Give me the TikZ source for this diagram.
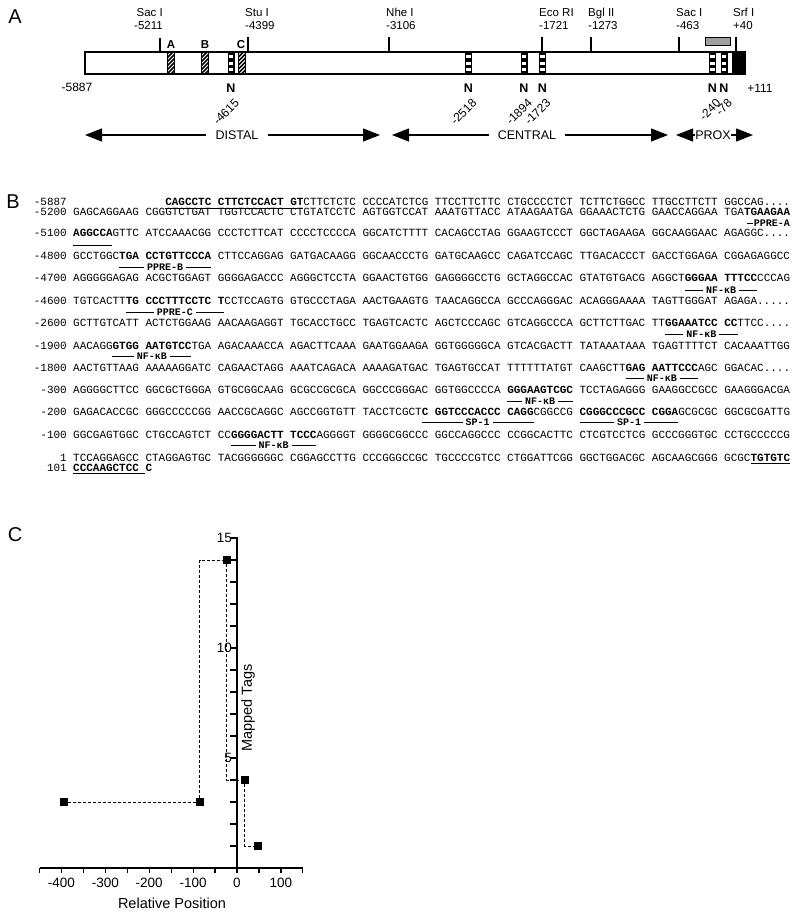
\documentclass[tikz,border=0pt]{standalone}
\usepackage{fontspec}
\setmainfont{Liberation Sans}
\newfontfamily\seqfont{Liberation Mono}
\usetikzlibrary{arrows.meta,positioning}

\tikzset{
  panel/.style={font=\fontsize{20}{20}\selectfont, inner sep=0pt},
  site/.style={font=\fontsize{11.5}{13}\selectfont, inner sep=0pt},
  sitetick/.style={line width=1.3pt},
  boxlab/.style={font=\bfseries\fontsize{11.5}{11.5}\selectfont, inner sep=0pt},
  nlab/.style={font=\bfseries\fontsize{12.5}{12.5}\selectfont, inner sep=0pt},
  npos/.style={font=\fontsize{12}{12}\selectfont, rotate=45, anchor=east, inner sep=0pt},
  endlab/.style={font=\fontsize{12}{12}\selectfont, inner sep=0pt},
  region/.style={font=\fontsize{12.5}{12.5}\selectfont, inner ysep=0pt, inner xsep=9pt},
  regarrow/.style={line width=1.3pt, -{Triangle[length=17pt,width=13pt]}},
  seq/.style={font=\seqfont\fontsize{10.96}{12}\selectfont, anchor=west, inner sep=0pt},
  seqlab/.style={font=\seqfont\fontsize{10.96}{12}\selectfont, anchor=east, inner sep=0pt},
  motif/.style={line width=0.9pt},
  motiflab/.style={font=\seqfont\bfseries\fontsize{10}{10}\selectfont, fill=white, inner xsep=3pt, inner ysep=1pt},
  uline/.style={line width=1.2pt},
  axis/.style={line width=1.2pt},
  ticklab/.style={font=\fontsize{13.5}{14}\selectfont, inner sep=0pt},
  axlab/.style={font=\fontsize{14.5}{15}\selectfont, inner sep=0pt},
  tag/.style={fill=black, minimum size=8pt, inner sep=0pt},
  stepline/.style={line width=0.9pt, dash pattern=on 3pt off 2pt}
}

\newcommand\hatchsite[1]{%
  \fill[white] (#1-3.3,52) rectangle (#1+3.3,74);
  \begin{scope}
    \clip (#1-3.3,52) rectangle (#1+3.3,74);
    \foreach \k in {0,...,9} \draw[line width=1.5pt] (#1-8,82-4*\k) -- (#1+8,66-4*\k);
  \end{scope}
  \draw[line width=0.6pt] (#1-3.3,52) rectangle (#1+3.3,74);}
\newcommand\nsite[1]{%
  \fill (#1-3.5,52) rectangle (#1+3.5,74);
  \foreach \v in {55,61.5,68} \fill[white] (#1-2.2,\v) rectangle (#1+2.2,\v+3.4);}

\begin{document}
\begin{tikzpicture}[x=1pt,y=-1pt]
\useasboundingbox[fill=white] (0,0) rectangle (800,916);

\node[panel] (pa) at (15,17) {A};
\node[panel] (pb) at (13,202) {B};
\node[panel] (pc) at (15,535) {C};

\hatchsite{171}
\hatchsite{205}
\hatchsite{241.5}
\node[boxlab] (ba) at (171,45) {A};
\node[boxlab] (bb) at (205,45) {B};
\node[boxlab] (bc) at (241,45) {C};
\foreach \x/\p [count=\i] in {231/-4615, 468.5/-2518, 524/-1894, 542.5/-1723, 712.5/-240, 724/-78} {
  \nsite{\x}
  \node[nlab] (n\i) at (\x,88) {N};
  \node[npos] (np\i) at (\x+6,101) {\p};
}
\fill (732,52) rectangle (745,74);
\draw[line width=1.5pt] (85,52) rectangle (745,74);
\draw[fill=gray!75] (705,37) rectangle (730,45);

\coordinate (sac1) at (160,52);
\draw[sitetick] (sac1) -- ++(0,-14);
\node[site, anchor=north east, align=right] (sac1lab) at (163,8) {Sac I\\-5211};
\foreach \x/\nm/\p/\nam in {248/Stu I/-4399/stu, 389/Nhe I/-3106/nhe, 542/Eco RI/-1721/eco, 591/Bgl II/-1273/bgl, 679/Sac I/-463/sac2, 736/Srf I/+40/srf} {
  \coordinate (\nam) at (\x,52);
  \draw[sitetick] (\nam) -- ++(0,-15);
  \node[site, anchor=north west, align=left] (\nam lab) at (\x-3,8) {\nm\\\p};
}
\node[endlab] (left) at (77,87) {-5887};
\node[endlab] (right) at (760,88) {+111};

\node[region] (distal) at (237,135) {DISTAL};
\node[region] (central) at (527,135) {CENTRAL};
\node[region, inner xsep=0pt] (prox) at (713,135) {PROX};
\coordinate (dl) at (85,135);
\coordinate (dr) at (380,135);
\coordinate (cl) at (392,135);
\coordinate (cr) at (668,135);
\coordinate (pl) at (676,135);
\coordinate (pr) at (753,135);
\draw[regarrow] (distal) -- (dl);
\draw[regarrow] (distal) -- (dr);
\draw[regarrow] (central) -- (cl);
\draw[regarrow] (central) -- (cr);
\draw[regarrow] (prox.west) -- (pl);
\draw[regarrow] (prox.east) -- (pr);

\node[seqlab] (lab0) at (67,202) {-5887};
\node[seq] (seq0) at ({73+14*6.58},202) {\textbf{CAGCCTC CTTCTCCACT GT}CTTCTCTC CCCCATCTCG TTCCTTCTTC CTGCCCCTCT TCTTCTGGCC TTGCCTTCTT GGCCAG....};
\foreach \y/\n/\s [count=\i] in {
  212/-5200/{GAGCAGGAAG CGGGTCTGAT TGGTCCACTC CTGTATCCTC AGTGGTCCAT AAATGTTACC ATAAGAATGA GGAAACTCTG GAACCAGGAA TGA\textbf{TGAAGAA}},
  233/-5100/{\textbf{AGGCCA}GTTC ATCCAAACGG CCCTCTTCAT CCCCTCCCCA GGCATCTTTT CACAGCCTAG GGAAGTCCCT GGCTAGAAGA GGCAAGGAAC AGAGGC....},
  256/-4800/{GCCTGGC\textbf{TGA CCTGTTCCCA} CTTCCAGGAG GATGACAAGG GGCAACCCTG GATGCAAGCC CAGATCCAGC TTGACACCCT GACCTGGAGA CGGAGAGGCC},
  278/-4700/{AGGGGGAGAG ACGCTGGAGT GGGGAGACCC AGGGCTCCTA GGAACTGTGG GAGGGGCCTG GCTAGGCCAC GTATGTGACG AGGCT\textbf{GGGAA TTTCC}CCCAG},
  301/-4600/{TGTCACTT\textbf{TG CCCTTTCCTC T}CCTCCAGTG GTGCCCTAGA AACTGAAGTG TAACAGGCCA GCCCAGGGAC ACAGGGAAAA TAGTTGGGAT AGAGA.....},
  323/-2600/{GCTTGTCATT ACTCTGGAAG AACAAGAGGT TGCACCTGCC TGAGTCACTC AGCTCCCAGC GTCAGGCCCA GCTTCTTGAC TT\textbf{GGAAATCC CC}TTCC....},
  346/-1900/{AACAGG\textbf{GTGG AATGTCC}TGA AGACAAACCA AGACTTCAAA GAATGGAAGA GGTGGGGGCA GTCACGACTT TATAAATAAA TGAGTTTTCT CACAAATTGG},
  368/-1800/{AACTGTTAAG AAAAAGGATC CAGAACTAGG AAATCAGACA AAAAGATGAC TGAGTGCCAT TTTTTTATGT CAAGCTT\textbf{GAG AATTCCC}AGC GGACAC....},
  390/-300/{AGGGGCTTCC GGCGCTGGGA GTGCGGCAAG GCGCCGCGCA GGCCCGGGAC GGTGGCCCCA \textbf{GGGAAGTCGC} TCCTAGAGGG GAAGGCCGCC GAAGGGACGA},
  412/-200/{GAGACACCGC GGGCCCCCGG AACCGCAGGC AGCCGGTGTT TACCTCGCT\textbf{C GGTCCCACCC CAGG}CGGCCG \textbf{CGGGCCCGCC CGGA}GCGCGC GGCGCGATTG},
  435/-100/{GGCGAGTGGC CTGCCAGTCT CC\textbf{GGGGACTT TCCC}AGGGGT GGGGCGGCCC GGCCAGGCCC CCGGCACTTC CTCGTCCTCG GCCCGGGTGC CCTGCCCCCG},
  458/1/{TCCAGGAGCC CTAGGAGTGC TACGGGGGGC CGGAGCCTTG CCCGGGCCGC TGCCCCGTCC CTGGATTCGG GGCTGGACGC AGCAAGCGGG GCGC\textbf{TGTGTC}},
  468/101/{\textbf{CCCAAGCTCC C}}
} {
  \node[seqlab] (lab\i) at (67,\y) {\n};
  \node[seq] (seq\i) at (73,\y) {\s};
}
\draw[uline] ({73+14*6.58},208.5) -- ({73+35*6.58},208.5);
\draw[uline] ({73+103*6.58},463.5) -- ({73+109*6.58},463.5);
\draw[uline] (73,473.5) -- ({73+11*6.58},473.5);

\node[motiflab, anchor=east, inner xsep=0pt, fill=none] (pprea) at (790,223) {PPRE-A};
\coordinate (pprea0) at ([xshift=-7pt]pprea.west);
\draw[motif] (pprea0) -- ([xshift=-1pt]pprea.west);
\draw[motif] (73,245) -- ({73+6*6.58},245);
\foreach \a/\b/\y/\t [count=\i] in {7/21/267/PPRE-B, 93/104/290/NF-κB, 8/23/312/PPRE-C, 90/101/334/NF-κB, 6/18/356/NF-κB, 84/95/378/NF-κB, 66/76/401/NF-κB, 53/70/422/SP-1, 77/92/422/SP-1, 24/37/445/NF-κB}
  \draw[motif] ({73+6.58*\a},\y) -- ({73+6.58*\b},\y) node[midway, motiflab] (mot\i) {\t};

\draw[axis] (40,868) -- (303,868);
\draw[axis] (237,868) -- (237,537);
\foreach \t in {-450,-400,...,150} \draw[axis] ({237+0.439*\t},868) -- ++(0,5);
\foreach \v in {0,...,15} \draw[axis] (237,{868-22*\v}) -- ++(-7,0);
\foreach \t [count=\i] in {-400,-300,-200,-100,0,100} \node[ticklab] (xt\i) at ({237+0.439*\t},883) {\t};
\foreach \v [count=\i] in {5,10,15} \node[ticklab, anchor=east] (yt\i) at (232,{868-22*\v}) {\v};
\node[axlab, rotate=90] (ytitle) at (248,708) {Mapped Tags};
\node[axlab] (xtitle) at (172,903) {Relative Position};

\node[tag] (p1) at (63.6,802) {};
\node[tag] (p2) at (199.7,802) {};
\node[tag] (p3) at (226.9,560) {};
\node[tag] (p4) at (244.5,780) {};
\node[tag] (p5) at (257.6,846) {};
\draw[stepline] (p1) -- (p2);
\draw[stepline] (p2) |- (p3);
\draw[stepline] (p3) |- (p4);
\draw[stepline] (p4) |- (p5);
\end{tikzpicture}
\end{document}
